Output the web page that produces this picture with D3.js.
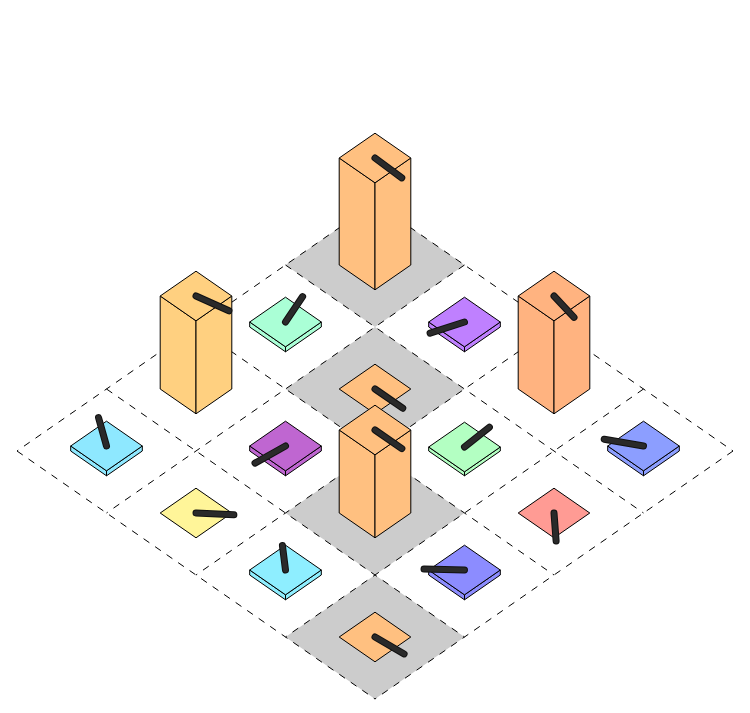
<!DOCTYPE html>
<html><head><meta charset="utf-8">
<script src="https://cdn.jsdelivr.net/npm/d3@7"></script>
<style>html,body{margin:0;padding:0;background:#fff}</style>
</head><body><svg id="c" width="750" height="713"></svg>
<script>
// grid position of each cell (column along the right-going edge, row along the left-going edge)
const cellCol   = [0,1,2,3, 0,1,2,3, 0,1,2,3, 0,1,2,3];
const cellRow   = [0,0,0,0, 1,1,1,1, 2,2,2,2, 3,3,3,3];
// bar height of each cell
const cellValue = [107,5,93,5, 5,0,4,0, 93,5,83,5, 5,0,5,0];
// bar colour
const cellColor = ["#FFC080","#BF80FF","#FFB380","#8C9EFF",
                   "#AAFFD6","#FFC080","#B3FFC2","#FF9B94",
                   "#FFD080","#BF66D1","#FFC080","#8C8CFF",
                   "#8EE8FF","#FFF599","#8EEEFF","#FFC080"];
// needle direction (degrees on the ground plane) and length (cell units)
const needleAngle  = [2,110,12,149, -110,0,-94,42, -12,96,0,137, -146,-41,-140,-5];
const needleLength = [0.31,0.30,0.29,0.32, 0.32,0.31,0.30,0.32, 0.31,0.31,0.30,0.32, 0.33,0.30,0.28,0.30];
// highlighted (grey) cells
const greyCell = [1,0,0,0, 0,1,0,0, 0,0,1,0, 0,0,0,1];

const N = 4, barSide = 0.4;

const xScale = d3.scaleLinear().domain([-N, N]).range([17, 733]);   // u - v
const yScale = d3.scaleLinear().domain([0, 2*N]).range([203, 699]);  // u + v
const zScale = d3.scaleLinear().domain([0, 100]).range([0, 100]);
const P = (u, v, z = 0) => [xScale(u - v), yScale(u + v) - zScale(z)];
const poly = pts => "M" + pts.map(p => p.join(",")).join("L") + "Z";

const svg = d3.select("#c");
const cells = cellCol.map((c, k) => ({
  i: c, j: cellRow[k], h: cellValue[k], color: cellColor[k],
  a: needleAngle[k], L: needleLength[k], grey: greyCell[k]
}));

// grey cells
svg.append("g").selectAll("path").data(cells.filter(d => d.grey)).join("path")
  .attr("d", d => poly([P(d.i, d.j), P(d.i + 1, d.j), P(d.i + 1, d.j + 1), P(d.i, d.j + 1)]))
  .attr("fill", "#CCCCCC");

// dashed grid
const lines = [];
for (let k = 0; k <= N; k++) {
  lines.push([P(k, 0), P(k, N)]);
  lines.push([P(0, k), P(N, k)]);
}
svg.append("g").selectAll("line").data(lines).join("line")
  .attr("x1", d => d[0][0]).attr("y1", d => d[0][1])
  .attr("x2", d => d[1][0]).attr("y2", d => d[1][1])
  .attr("stroke", "#000").attr("stroke-width", 1).attr("stroke-dasharray", "7,7");

// bars, back to front
const order = cells.slice().sort((a, b) => (a.i + a.j) - (b.i + b.j) || a.i - b.i);
const g = svg.append("g");
order.forEach(d => {
  const cu = d.i + 0.5, cv = d.j + 0.5, s = barSide / 2;
  const u0 = cu - s, u1 = cu + s, v0 = cv - s, v1 = cv + s, h = d.h;
  const grp = g.append("g").attr("stroke", "#000").attr("stroke-width", 1)
    .attr("stroke-linejoin", "round").attr("fill", d.color);
  if (h > 0) {
    grp.append("path").attr("d", poly([P(u0, v1, 0), P(u1, v1, 0), P(u1, v1, h), P(u0, v1, h)]));
    grp.append("path").attr("d", poly([P(u1, v0, 0), P(u1, v1, 0), P(u1, v1, h), P(u1, v0, h)]));
  }
  grp.append("path").attr("d", poly([P(u0, v0, h), P(u1, v0, h), P(u1, v1, h), P(u0, v1, h)]));
  const rad = d.a * Math.PI / 180;
  const a0 = P(cu, cv, h), a1 = P(cu + d.L * Math.cos(rad), cv + d.L * Math.sin(rad), h);
  g.append("line").attr("x1", a0[0]).attr("y1", a0[1]).attr("x2", a1[0]).attr("y2", a1[1])
    .attr("stroke", "#111").attr("stroke-width", 7).attr("stroke-linecap", "round");
  g.append("line").attr("x1", a0[0]).attr("y1", a0[1]).attr("x2", a1[0]).attr("y2", a1[1])
    .attr("stroke", "#2a2a2a").attr("stroke-width", 5).attr("stroke-linecap", "round");
});
</script></body></html>
